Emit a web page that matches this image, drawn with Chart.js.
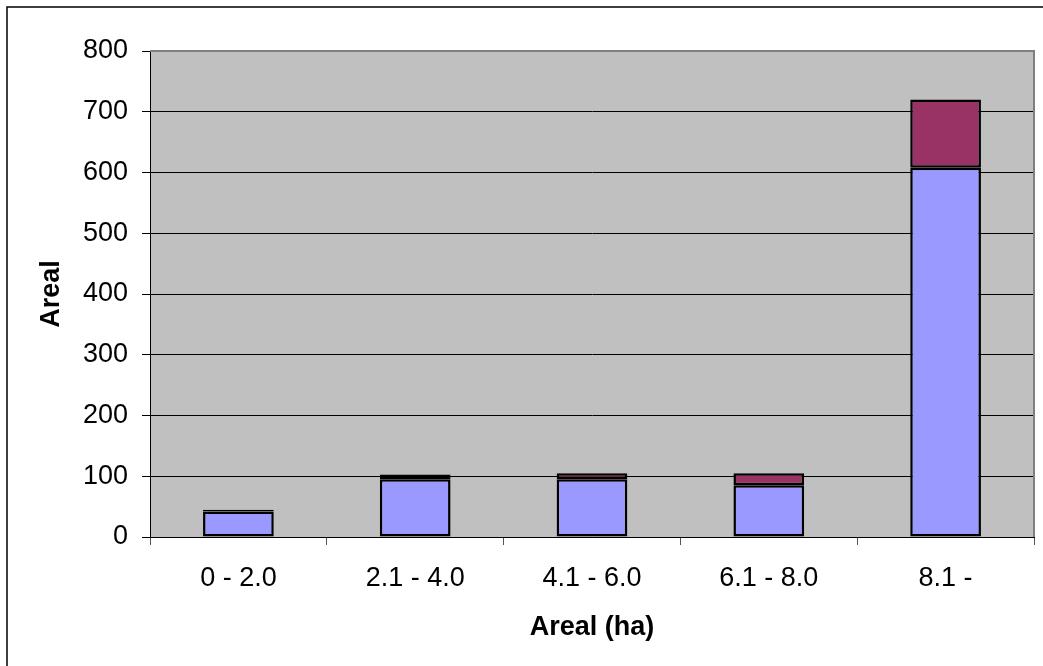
<!DOCTYPE html>
<html>
<head>
<meta charset="utf-8">
<script src="https://cdn.jsdelivr.net/npm/chart.js@4/dist/chart.umd.min.js"></script>
<style>
    html, body { margin: 0; padding: 0; background: #fff; }
    canvas { display: block; }
</style>
</head>
<body>
<canvas id="chart" width="1043" height="666"></canvas>
<script>
var categories = ['0 - 2.0', '2.1 - 4.0', '4.1 - 6.0', '6.1 - 8.0', '8.1 -'];
var seriesBlue = [42, 95, 95, 85, 608];
var seriesPink = [3, 8, 10, 20, 112];
var yTicks = [0, 100, 200, 300, 400, 500, 600, 700, 800];

var fontFamily = '"Liberation Sans", Arial, sans-serif';

// gray plot background, gray top/right frame, outer page border
var plotFrame = {
    id: 'plotFrame',
    beforeDraw: function (chart) {
        var ctx = chart.ctx, a = chart.chartArea;
        ctx.save();
        ctx.fillStyle = '#fff';
        ctx.fillRect(0, 0, chart.width, chart.height);
        ctx.strokeStyle = '#000';
        ctx.lineWidth = 1.5;
        ctx.strokeRect(7, 7, chart.width + 20, chart.height + 20);
        ctx.fillStyle = '#C0C0C0';
        ctx.fillRect(a.left, a.top, a.right - a.left, a.bottom - a.top);
        ctx.restore();
    },
    afterDatasetsDraw: function (chart) {
        var ctx = chart.ctx, a = chart.chartArea;
        ctx.save();
        ctx.strokeStyle = '#808080';
        ctx.lineWidth = 2;
        ctx.beginPath();
        ctx.moveTo(a.left, a.top);
        ctx.lineTo(a.right, a.top);
        ctx.lineTo(a.right, a.bottom);
        ctx.stroke();
        ctx.restore();
    }
};

var barCtx = document.getElementById('chart').getContext('2d');
var barChart = new Chart(barCtx, {
    type: 'bar',
    data: {
        labels: categories,
        datasets: [{
            label: 'Series 1',
            data: seriesBlue,
            backgroundColor: '#9999FF',
            borderColor: '#000',
            borderWidth: 2.5,
            borderSkipped: false
        }, {
            label: 'Series 2',
            data: seriesPink,
            backgroundColor: '#993366',
            borderColor: '#000',
            borderWidth: 2.5,
            borderSkipped: false
        }]
    },
    options: {
        responsive: false,
        animation: false,
        layout: { padding: { top: 51, right: 9, bottom: 0, left: 0 } },
        datasets: { bar: { categoryPercentage: 1, barPercentage: 0.4 } },
        plugins: {
            legend: { display: false },
            tooltip: { enabled: false }
        },
        scales: {
            x: {
                stacked: true,
                afterFit: function (s) { s.height = 129; },
                grid: {
                    offset: true,
                    drawOnChartArea: false,
                    tickLength: 8,
                    color: '#555'
                },
                border: { color: '#000', width: 1 },
                ticks: {
                    color: '#000',
                    padding: 17,
                    font: { family: fontFamily, size: 27 }
                },
                title: {
                    display: true,
                    text: 'Areal (ha)',
                    color: '#000',
                    padding: { top: 0, bottom: 22 },
                    font: { family: fontFamily, size: 27, weight: 'bold' }
                }
            },
            y: {
                stacked: true,
                min: 0,
                max: 800,
                afterFit: function (s) { s.width = 150; },
                afterBuildTicks: function (s) {
                    s.ticks = yTicks.map(function (v) { return { value: v }; });
                },
                grid: {
                    color: '#000',
                    lineWidth: 1,
                    tickLength: 8
                },
                border: { color: '#000', width: 1 },
                ticks: {
                    color: '#000',
                    padding: 14,
                    font: { family: fontFamily, size: 27 }
                },
                title: {
                    display: true,
                    text: 'Areal',
                    color: '#000',
                    padding: { top: 35, bottom: 0 },
                    font: { family: fontFamily, size: 27, weight: 'bold' }
                }
            }
        }
    },
    plugins: [plotFrame]
});
</script>
</body>
</html>
